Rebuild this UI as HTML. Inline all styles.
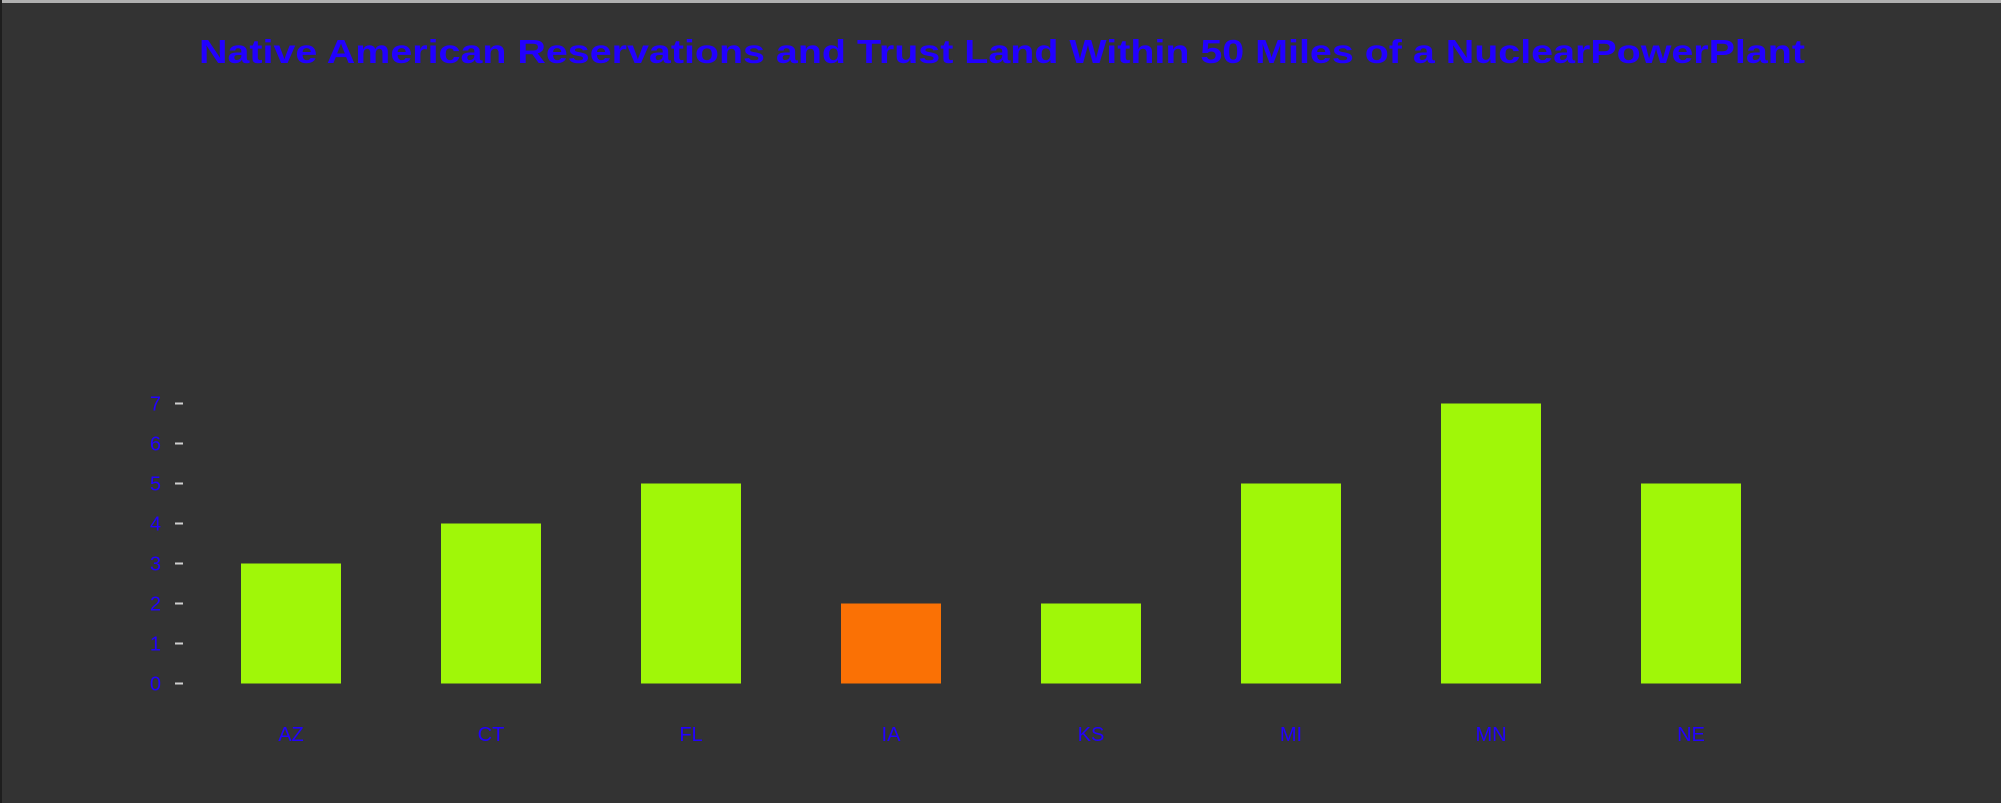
<!DOCTYPE html>
<html><head><meta charset="utf-8"><style>
html,body{margin:0;padding:0;background:#333;}
svg{display:block;}
</style></head><body>
<svg id="chart" width="2001" height="803" xmlns="http://www.w3.org/2000/svg">
<rect x="0" y="0" width="2001" height="803" fill="#333333"/>
<rect x="0" y="0" width="2001" height="3" fill="#b0b0b0"/>
<rect x="0" y="0" width="2" height="803" fill="#1e1e1e"/>
<text x="199" y="63" textLength="1606" lengthAdjust="spacingAndGlyphs" font-family="Liberation Sans, sans-serif" font-weight="bold" font-size="33" fill="#2200ff">Native American Reservations and Trust Land Within 50 Miles of a NuclearPowerPlant</text>
<g id="yaxis"></g>
<g id="bars"></g>
<g id="xaxis"></g>
</svg>
<script>
const categories = ["AZ","CT","FL","IA","KS","MI","MN","NE"];
const values = [3,4,5,2,2,5,7,5];
const highlighted = ["IA"];
const yTicks = [0,1,2,3,4,5,6,7];

const NS = "http://www.w3.org/2000/svg";
const y0 = 683.5, unit = 40;
function yScale(v){ return y0 - v*unit; }
function xScale(i){ return 241 + i*200; }
const barW = 100;

const yaxis = document.getElementById('yaxis');
yTicks.forEach(t=>{
  const ln = document.createElementNS(NS,'rect');
  ln.setAttribute('x',175); ln.setAttribute('y',yScale(t)-1);
  ln.setAttribute('width',8); ln.setAttribute('height',2);
  ln.setAttribute('fill','#d0d0d0');
  
  
  yaxis.appendChild(ln);
  const tx = document.createElementNS(NS,'text');
  tx.setAttribute('x',161); tx.setAttribute('y',yScale(t)+7);
  tx.setAttribute('text-anchor','end');
  tx.setAttribute('font-family','Liberation Sans, sans-serif');
  tx.setAttribute('font-size','20');
  tx.setAttribute('fill','#2200ff');
  tx.textContent = t;
  
  
  yaxis.appendChild(tx);
});

const bars = document.getElementById('bars');
const xaxis = document.getElementById('xaxis');
categories.forEach((c,i)=>{
  const r = document.createElementNS(NS,'rect');
  r.setAttribute('x',xScale(i)); r.setAttribute('y',yScale(values[i]));
  r.setAttribute('width',barW); r.setAttribute('height',yScale(0)-yScale(values[i]));
  r.setAttribute('fill', highlighted.includes(c) ? '#fa7105' : '#a0f708');
  
  
  bars.appendChild(r);
  const tx = document.createElementNS(NS,'text');
  tx.setAttribute('x',xScale(i)+barW/2); tx.setAttribute('y',741);
  tx.setAttribute('text-anchor','middle');
  tx.setAttribute('font-family','Liberation Sans, sans-serif');
  tx.setAttribute('font-size','20');
  tx.setAttribute('fill','#2200ff');
  tx.textContent = c;
  
  
  xaxis.appendChild(tx);
});
</script>
</body></html>
